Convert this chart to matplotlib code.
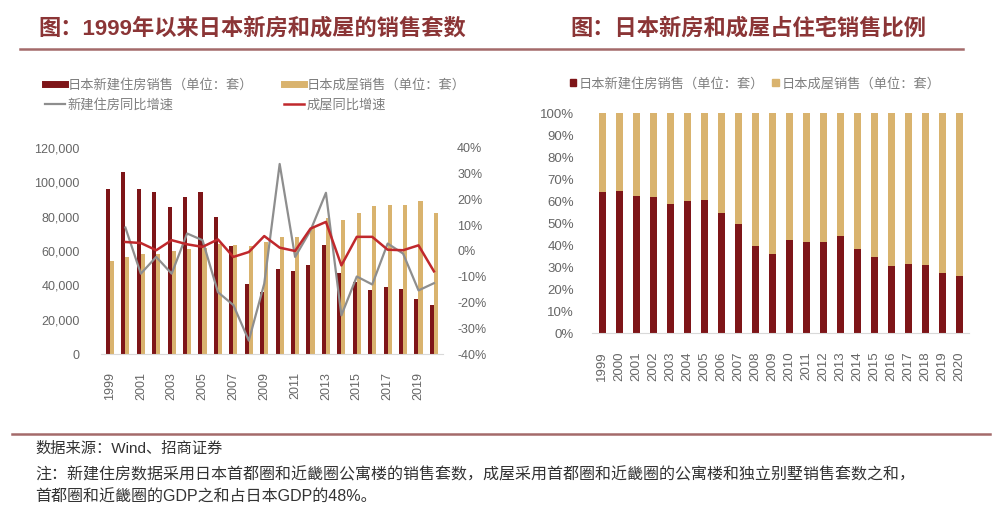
import numpy as np
import matplotlib.pyplot as plt
from matplotlib.lines import Line2D
from matplotlib.patches import Patch

plt.rcParams['font.family'] = ['Liberation Sans', 'Noto Sans CJK SC']

# 数据
years = [str(y) for y in range(1999, 2021)]
xinfang = [96000, 106000, 96000, 94500, 85700, 91600, 94500, 79900, 62700, 40500, 36400,
           49300, 48100, 52000, 63700, 47100, 41900, 37000, 39000, 37600, 32000, 28400]
chengwu = [54000, 56500, 58000, 58500, 60000, 61000, 62000, 64000, 63500, 63000, 65000,
           68000, 68000, 73500, 79000, 78000, 82000, 86500, 87000, 87000, 89000, 82000]
xinfang_yoy = [None, 9.1, -8.8, -2.3, -8.8, 6.8, 4.2, -16.0, -21.0, -34.8, -12.7,
               33.8, -2.3, 8.0, 22.6, -25.0, -9.9, -13.0, 2.9, -1.0, -15.3, -12.5]
chengwu_yoy = [None, 3.5, 3.1, 0.3, 4.2, 2.6, 1.6, 4.5, -2.3, -0.4, 5.8,
               1.3, 0.0, 8.7, 11.3, -5.6, 5.5, 5.5, 0.5, 0.3, 2.2, -7.9]
xinfang_share = [63.9, 64.8, 62.4, 61.8, 58.6, 60.2, 60.6, 54.8, 49.5, 39.4, 35.9,
                 42.4, 41.5, 41.4, 44.2, 38.2, 34.8, 30.6, 31.4, 30.9, 27.3, 26.1]

darkred = '#7E1518'
tan = '#D9B36E'
grayline = '#8E8E8E'
redline = '#C0282C'
tickc = '#666666'
titlec = '#8B3536'

fig = plt.figure(figsize=(10, 5.18), dpi=100)

# 标题
fig.text(0.038, 0.945, '图：1999年以来日本新房和成屋的销售套数', fontsize=16, color=titlec,
         fontweight='bold', va='center', ha='left')
fig.text(0.57, 0.945, '图：日本新房和成屋占住宅销售比例', fontsize=16, color=titlec,
         fontweight='bold', va='center', ha='left')
fig.add_artist(Line2D([0.02, 0.963], [0.905, 0.905], color='#A46A6A', lw=1.8))

# ---------- 左图 ----------
x = np.arange(len(years))
ax = fig.add_axes([0.1007, 0.3166, 0.3425, 0.3977])
ax.bar(x - 0.13, xinfang, width=0.27, color=darkred, zorder=2)
ax.bar(x + 0.13, chengwu, width=0.27, color=tan, zorder=2)
ax.set_xlim(-0.6, 21.6)
ax.set_ylim(0, 120000)
ax.set_yticks(range(0, 120001, 20000))
ax.set_yticklabels(['{:,}'.format(v) for v in range(0, 120001, 20000)])
ax.set_xticks(x[::2])
ax.set_xticklabels(years[::2], rotation=90)
for s in ['top', 'right', 'left']:
    ax.spines[s].set_visible(False)
ax.spines['bottom'].set_color('#D9D9D9')
ax.tick_params(length=0, colors=tickc, labelsize=9)
ax.tick_params(axis='y', pad=15)
ax.tick_params(axis='x', pad=13)

ax2 = ax.twinx()
yx = [np.nan if v is None else v / 100 for v in xinfang_yoy]
yc = [np.nan if v is None else v / 100 for v in chengwu_yoy]
ax2.plot(x, yx, color=grayline, lw=1.6, zorder=3)
ax2.plot(x, yc, color=redline, lw=1.8, zorder=4)
ax2.set_ylim(-0.4, 0.4)
ax2.set_yticks(np.linspace(-0.4, 0.4, 9))
ax2.set_yticklabels(['{:.0f}%'.format(v * 100) for v in np.linspace(-0.4, 0.4, 9)])
for s in ax2.spines.values():
    s.set_visible(False)
ax2.tick_params(length=0, colors=tickc, labelsize=9, pad=10)

handles = [Line2D([], [], color=darkred, lw=5), Line2D([], [], color=grayline, lw=1.6),
           Line2D([], [], color=tan, lw=5), Line2D([], [], color=redline, lw=1.8)]
labels = ['日本新建住房销售（单位：套）', '新建住房同比增速', '日本成屋销售（单位：套）', '成屋同比增速']
fig.legend(handles, labels, ncol=2, loc='center left', bbox_to_anchor=(0.033, 0.816),
           frameon=False, fontsize=9.5, labelcolor='#7F7F7F', handlelength=1.5,
           handletextpad=0.2, columnspacing=2.4, labelspacing=0.55)

# ---------- 右图 ----------
share_new = np.array(xinfang_share) / 100
share_old = 1 - share_new
bx = fig.add_axes([0.592, 0.357, 0.3774, 0.4247])
bx.bar(x, share_new, width=0.42, color=darkred, zorder=2)
bx.bar(x, share_old, bottom=share_new, width=0.42, color=tan, zorder=2)
bx.set_xlim(-0.6, 21.6)
bx.set_ylim(0, 1.0)
bx.set_yticks(np.linspace(0, 1, 11))
bx.set_yticklabels(['{:.0f}%'.format(v * 100) for v in np.linspace(0, 1, 11)])
bx.set_xticks(x)
bx.set_xticklabels(years, rotation=90)
for s in ['top', 'right', 'left']:
    bx.spines[s].set_visible(False)
bx.spines['bottom'].set_color('#D9D9D9')
bx.tick_params(length=0, colors=tickc, labelsize=9.5)
bx.tick_params(axis='y', pad=13)
bx.tick_params(axis='x', pad=13)

rh = [Patch(color=darkred), Patch(color=tan)]
fig.legend(rh, ['日本新建住房销售（单位：套）', '日本成屋销售（单位：套）'], ncol=2,
           loc='center', bbox_to_anchor=(0.755, 0.838), frameon=False, fontsize=9.5,
           labelcolor='#7F7F7F', handlelength=0.5, handleheight=0.5,
           handletextpad=0.2, columnspacing=0.6)

# ---------- 底部注释 ----------
fig.add_artist(Line2D([0.012, 0.99], [0.162, 0.162], color='#A46A6A', lw=1.8))
fig.text(0.035, 0.133, '数据来源：Wind、招商证券', fontsize=11, color='#333333', va='center')
fig.text(0.035, 0.083, '注：新建住房数据采用日本首都圈和近畿圈公寓楼的销售套数，成屋采用首都圈和近畿圈的公寓楼和独立别墅销售套数之和，',
         fontsize=11.5, color='#333333', va='center')
fig.text(0.035, 0.040, '首都圈和近畿圈的GDP之和占日本GDP的48%。', fontsize=11.5, color='#333333', va='center')

fig.savefig('out.png', dpi=100)
